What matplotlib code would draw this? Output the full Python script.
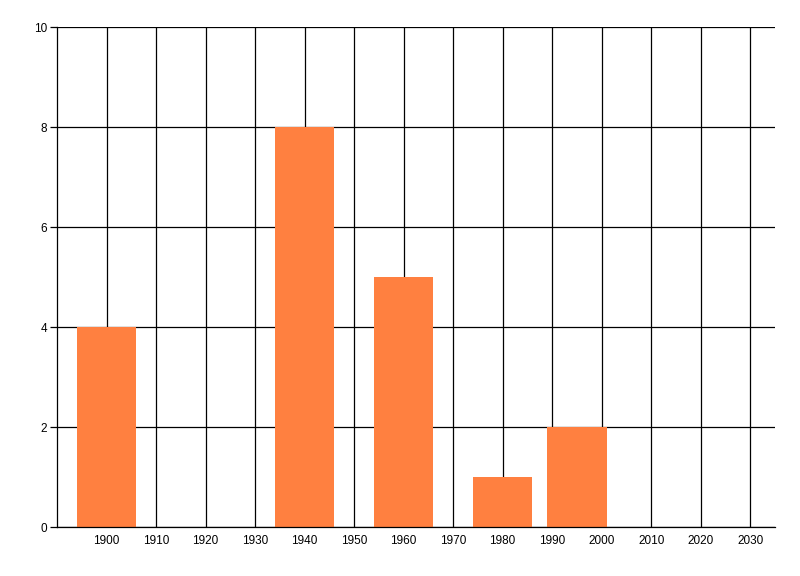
import matplotlib
matplotlib.use("Agg")
import matplotlib.pyplot as plt

years = [1900, 1940, 1960, 1980, 1995]
values = [4, 8, 5, 1, 2]
xticks = list(range(1900, 2031, 10))
yticks = [0, 2, 4, 6, 8, 10]

plt.rcParams['font.family'] = ['Liberation Sans', 'DejaVu Sans']
fig = plt.figure(figsize=(8, 5.76), dpi=100)
ax = fig.add_axes([0.07125, 0.085, 0.8975, 0.868])
ax.set_axisbelow(True)
ax.bar(years, values, width=12, color='#FF8040', zorder=2)
ax.set_xlim(1890, 2035)
ax.set_ylim(0, 10)
ax.set_xticks(xticks)
ax.set_yticks(yticks)
ax.grid(True, color='black', linewidth=0.9, zorder=0)
for s in ['top', 'right']:
    ax.spines[s].set_visible(False)
for s in ['left', 'bottom']:
    ax.spines[s].set_linewidth(0.9)
ax.tick_params(axis='x', length=0, pad=6, labelsize=8.5)
ax.tick_params(axis='y', length=5, width=0.9, pad=2, labelsize=8.5)
fig.savefig('out.png', dpi=100)
